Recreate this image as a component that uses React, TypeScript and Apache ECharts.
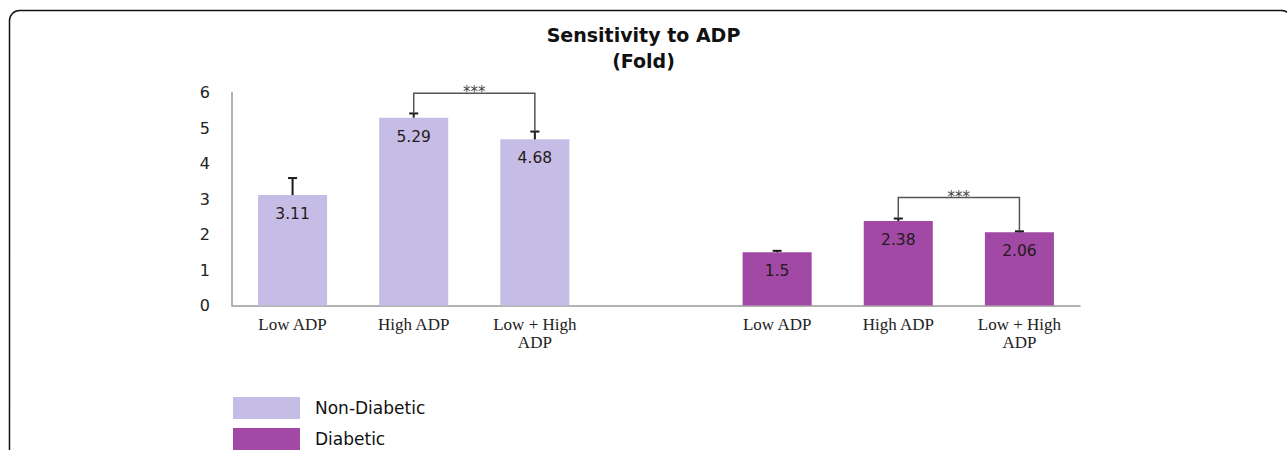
import React, { useEffect, useRef } from "react";
import * as echarts from "echarts";

const categories = ["Low ADP", "High ADP", "Low + High\nADP", "", "Low ADP", "High ADP", "Low + High\nADP"];
const nonDiabetic = [3.11, 5.29, 4.68, null, null, null, null];
const diabetic = [null, null, null, null, 1.5, 2.38, 2.06];
const nonDiabeticErr = [0.48, 0.12, 0.22, null, null, null, null];
const diabeticErr = [null, null, null, null, 0.04, 0.07, 0.03];
// significance brackets: [fromIndex, toIndex, bracketLevel]
const brackets = [
  [1, 2, 5.98],
  [5, 6, 3.04],
];
const yTicks = { min: 0, max: 6, interval: 1 };

const ND_COLOR = "#c6bde6";
const D_COLOR = "#a149a4";

export default function App() {
  const ref = useRef<HTMLDivElement>(null);
  useEffect(() => {
    if (!ref.current) return;
    const chart = echarts.init(ref.current, null, { renderer: "svg" });

    const values = categories.map((_, i) => (nonDiabetic[i] ?? diabetic[i]) as number | null);
    const errs = categories.map((_, i) => (nonDiabeticErr[i] ?? diabeticErr[i]) as number | null);
    const errData = values
      .map((v, i) => (v == null ? null : [i, v, v + (errs[i] as number)]))
      .filter((d) => d != null) as number[][];
    const bracketData = brackets.map(([a, b, lvl]) => [
      a,
      b,
      lvl,
      (values[a] as number) + (errs[a] as number),
      (values[b] as number) + (errs[b] as number),
    ]);

    const labelCfg = {
      show: true,
      position: "insideTop",
      distance: 11,
      color: "#261a20",
      fontFamily: "DejaVu Sans",
      fontSize: 15.5,
    };

    chart.setOption({
      animation: false,
      title: {
        text: "Sensitivity to ADP\n(Fold)",
        left: "center",
        top: 17,
        textStyle: {
          fontFamily: "DejaVu Sans",
          fontWeight: "bold",
          fontSize: 19,
          lineHeight: 26,
          color: "#111",
        },
      },
      legend: {
        orient: "vertical",
        left: 233,
        top: 397,
        height: 120,
        padding: 0,
        itemWidth: 67,
        itemHeight: 22,
        itemGap: 9,
        icon: "rect",
        textStyle: {
          fontFamily: "DejaVu Sans",
          fontSize: 17,
          color: "#111",
          padding: [0, 0, 0, 10],
        },
        data: ["Non-Diabetic", "Diabetic"],
      },
      grid: { left: 232, right: 207, top: 92.5, bottom: 144.5 },
      xAxis: {
        type: "category",
        data: categories,
        axisTick: { show: false },
        axisLine: { lineStyle: { color: "#9a9a9a", width: 1.5 } },
        axisLabel: {
          interval: 0,
          margin: 10,
          fontFamily: "Liberation Serif",
          fontSize: 17,
          lineHeight: 18,
          color: "#222",
        },
      },
      yAxis: {
        type: "value",
        min: yTicks.min,
        max: yTicks.max,
        interval: yTicks.interval,
        splitLine: { show: false },
        axisTick: { show: false },
        axisLine: { show: true, lineStyle: { color: "#9a9a9a", width: 1.5 } },
        axisLabel: {
          margin: 22,
          fontFamily: "DejaVu Sans",
          fontSize: 16,
          color: "#222",
        },
      },
      series: [
        {
          name: "Non-Diabetic",
          type: "bar",
          data: nonDiabetic,
          barWidth: "57%",
          barGap: "-100%",
          itemStyle: { color: ND_COLOR },
          label: labelCfg,
          z: 2,
        },
        {
          name: "Diabetic",
          type: "bar",
          data: diabetic,
          barWidth: "57%",
          barGap: "-100%",
          itemStyle: { color: D_COLOR },
          label: labelCfg,
          z: 2,
        },
        {
          name: "err",
          type: "custom",
          data: errData,
          z: 5,
          silent: true,
          renderItem: (params: any, api: any) => {
            const i = api.value(0);
            const lo = api.coord([i, api.value(1)]);
            const hi = api.coord([i, api.value(2)]);
            const cap = 4.5;
            return {
              type: "group",
              children: [
                {
                  type: "line",
                  shape: { x1: lo[0], y1: lo[1], x2: hi[0], y2: hi[1] },
                  style: { stroke: "#1a1a1a", lineWidth: 2 },
                },
                {
                  type: "line",
                  shape: { x1: hi[0] - cap, y1: hi[1], x2: hi[0] + cap, y2: hi[1] },
                  style: { stroke: "#1a1a1a", lineWidth: 2 },
                },
              ],
            };
          },
        },
        {
          name: "sig",
          type: "custom",
          data: bracketData,
          z: 5,
          silent: true,
          renderItem: (params: any, api: any) => {
            const a = api.value(0);
            const b = api.value(1);
            const top = api.value(2);
            const pa = api.coord([a, api.value(3)]);
            const pb = api.coord([b, api.value(4)]);
            const ta = api.coord([a, top]);
            const tb = api.coord([b, top]);
            return {
              type: "group",
              children: [
                {
                  type: "polyline",
                  shape: {
                    points: [
                      [pa[0], pa[1]],
                      [ta[0], ta[1]],
                      [tb[0], tb[1]],
                      [pb[0], pb[1]],
                    ],
                  },
                  style: { stroke: "#555", lineWidth: 1.5, fill: "none" },
                },
                {
                  type: "text",
                  x: (ta[0] + tb[0]) / 2,
                  y: ta[1] - 1,
                  style: {
                    text: "***",
                    fontFamily: "DejaVu Sans",
                    fontSize: 15,
                    fill: "#444",
                    align: "center",
                    verticalAlign: "middle",
                  },
                },
              ],
            };
          },
        },
      ],
      graphic: [
        {
          type: "rect",
          shape: { x: 9.5, y: 10.5, width: 1282, height: 520, r: 10 },
          style: { fill: "none", stroke: "#111", lineWidth: 1.5 },
          silent: true,
        },
      ],
    });
    return () => chart.dispose();
  }, []);
  return (
    <div
      ref={ref}
      style={{ position: "absolute", left: 0, top: 0, width: 1287, height: 450 }}
    />
  );
}
